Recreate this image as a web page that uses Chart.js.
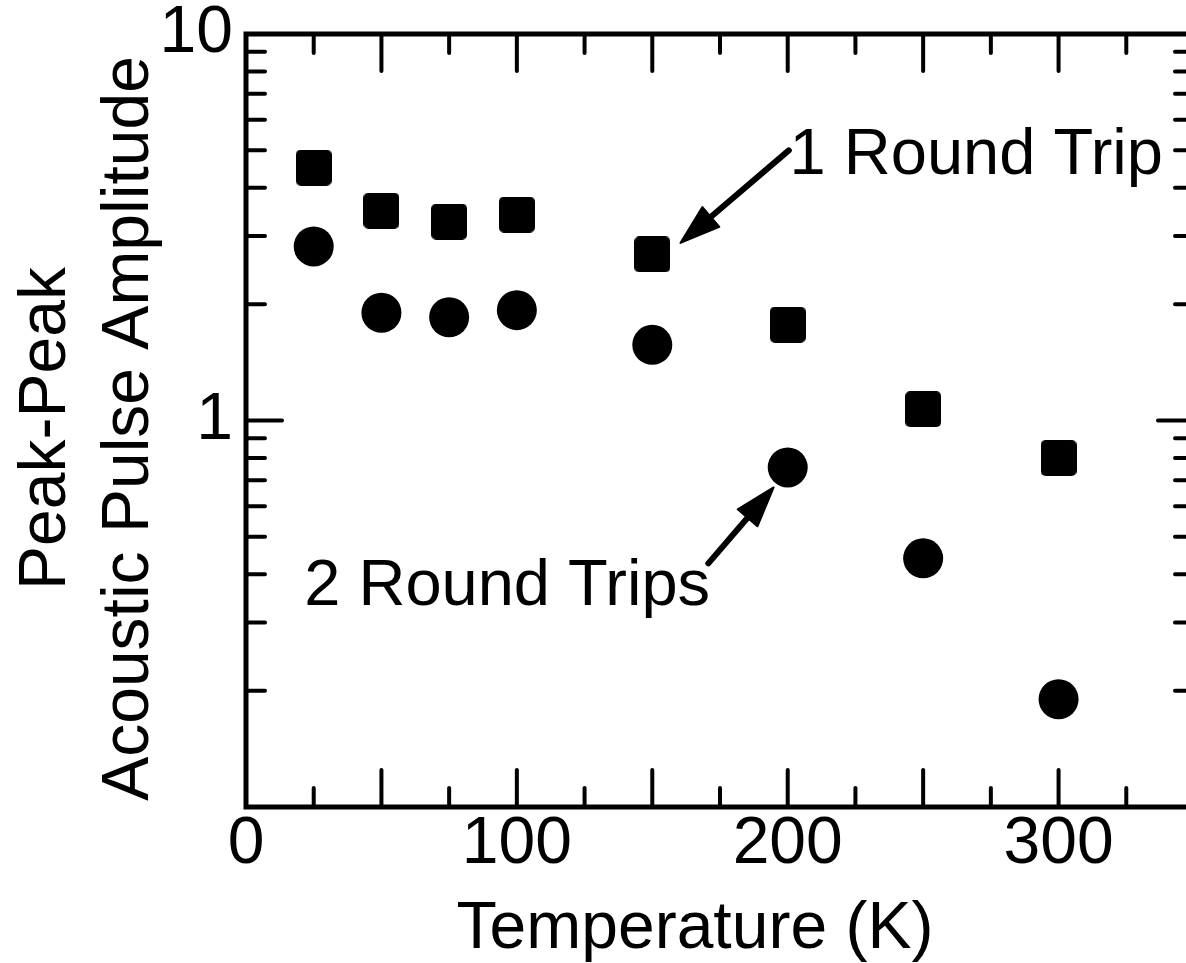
<!DOCTYPE html>
<html>
<head>
<meta charset="utf-8">
<script src="https://cdn.jsdelivr.net/npm/chart.js@4.4.0/dist/chart.umd.min.js"></script>
<style>
  html, body { margin: 0; padding: 0; background: #fff; overflow: hidden; }
  #wrap { width: 1214px; height: 963px; }
</style>
</head>
<body>
<div id="wrap"><canvas id="chart" width="1214" height="963"></canvas></div>
<script>
// data
const temperatures = [25, 50, 75, 100, 150, 200, 250, 300];
const oneRoundTrip = [4.51, 3.49, 3.27, 3.41, 2.69, 1.77, 1.07, 0.80];
const twoRoundTrips = [2.82, 1.90, 1.85, 1.93, 1.57, 0.756, 0.44, 0.190];

const xTicks = [0, 25, 50, 75, 100, 125, 150, 175, 200, 225, 250, 275, 300, 325, 350];
const xLabels = [0, 100, 200, 300];
const yTicks = [0.1, 0.2, 0.3, 0.4, 0.5, 0.6, 0.7, 0.8, 0.9, 1, 2, 3, 4, 5, 6, 7, 8, 9, 10];
const yLabels = [1, 10];

const xTitle = 'Temperature (K)';
const yTitle = ['Peak-Peak', 'Acoustic Pulse Amplitude'];

// annotation anchors in data units
const noteText = ['1 Round Trip', '2 Round Trips'];
const noteAt = [[200.7, 4.35], [21.5, 0.333]];
const arrowFrom = [[200.4, 5.0], [170.7, 0.427]];
const arrowTo = [[160.4, 2.88], [194.8, 0.671]];

const FONT = '"Liberation Sans", Arial, Helvetica, sans-serif';

// rounded square marker
function squareMarker(side, r) {
    const c = document.createElement('canvas');
    c.width = side; c.height = side;
    const g = c.getContext('2d');
    g.fillStyle = '#000';
    g.beginPath();
    g.roundRect(0, 0, side, side, r);
    g.fill();
    return c;
}

const axesAndNotes = {
    id: 'axesAndNotes',
    afterDraw(chart) {
        const { ctx, chartArea: a, scales: { x, y } } = chart;
        ctx.save();
        ctx.strokeStyle = '#000';
        ctx.fillStyle = '#000';

        // frame
        ctx.lineWidth = 5;
        ctx.strokeRect(a.left, a.top, a.right - a.left, a.bottom - a.top);

        // inward ticks
        ctx.lineWidth = 4;
        ctx.lineCap = 'round';
        ctx.beginPath();
        x.ticks.forEach(t => {
            if (t.value <= x.min || t.value >= x.max) return;
            const px = x.getPixelForValue(t.value);
            const len = t.value % 50 === 0 ? 37 : 19;
            ctx.moveTo(px, a.bottom); ctx.lineTo(px, a.bottom - len);
            ctx.moveTo(px, a.top); ctx.lineTo(px, a.top + len);
        });
        y.ticks.forEach(t => {
            if (t.value <= y.min || t.value >= y.max) return;
            const py = y.getPixelForValue(t.value);
            const e = Math.log10(t.value);
            const len = Math.abs(e - Math.round(e)) < 1e-6 ? 36 : 19;
            ctx.moveTo(a.left, py); ctx.lineTo(a.left + len, py);
            ctx.moveTo(a.right, py); ctx.lineTo(a.right - len, py);
        });
        ctx.stroke();

        // axis titles
        ctx.font = '66px ' + FONT;
        ctx.textAlign = 'center';
        ctx.textBaseline = 'alphabetic';
        ctx.fillText(xTitle, 695, 948);
        const midY = (a.top + a.bottom) / 2 + 8;
        [65, 148].forEach((bx, i) => {
            ctx.save();
            ctx.translate(bx, midY);
            ctx.rotate(-Math.PI / 2);
            ctx.fillText(yTitle[i], 0, 0);
            ctx.restore();
        });

        // notes
        ctx.font = '65px ' + FONT;
        ctx.textAlign = 'left';
        noteText.forEach((txt, i) => {
            ctx.fillText(txt, x.getPixelForValue(noteAt[i][0]), y.getPixelForValue(noteAt[i][1]));
        });

        // arrows
        arrowFrom.forEach((f, i) => {
            const x0 = x.getPixelForValue(f[0]), y0 = y.getPixelForValue(f[1]);
            const x1 = x.getPixelForValue(arrowTo[i][0]), y1 = y.getPixelForValue(arrowTo[i][1]);
            const ang = Math.atan2(y1 - y0, x1 - x0);
            const head = 40, half = 13;
            const bx = x1 - head * Math.cos(ang), by = y1 - head * Math.sin(ang);
            ctx.lineWidth = 6;
            ctx.beginPath();
            ctx.moveTo(x0, y0);
            ctx.lineTo(bx + 4 * Math.cos(ang), by + 4 * Math.sin(ang));
            ctx.stroke();
            ctx.beginPath();
            ctx.moveTo(x1, y1);
            ctx.lineTo(bx + half * Math.sin(ang), by - half * Math.cos(ang));
            ctx.lineTo(bx - half * Math.sin(ang), by + half * Math.cos(ang));
            ctx.closePath();
            ctx.lineJoin = 'round';
            ctx.lineWidth = 2;
            ctx.fill();
            ctx.stroke();
        });
        ctx.restore();
    }
};

const ctx = document.getElementById('chart').getContext('2d');
new Chart(ctx, {
    type: 'scatter',
    data: {
        datasets: [
            {
                label: '1 Round Trip',
                data: temperatures.map((t, i) => ({ x: t, y: oneRoundTrip[i] })),
                pointStyle: squareMarker(36, 5),
                backgroundColor: '#000',
                borderWidth: 0
            },
            {
                label: '2 Round Trips',
                data: temperatures.map((t, i) => ({ x: t, y: twoRoundTrips[i] })),
                pointStyle: 'circle',
                pointRadius: 20,
                backgroundColor: '#000',
                borderWidth: 0
            }
        ]
    },
    options: {
        responsive: false,
        devicePixelRatio: 1,
        animation: false,
        events: [],
        layout: { padding: { top: 34, right: 8, left: 0, bottom: 0 } },
        plugins: { legend: { display: false }, tooltip: { enabled: false } },
        scales: {
            x: {
                type: 'linear',
                min: 0,
                max: 350,
                grid: { display: false, drawTicks: false },
                border: { display: false },
                afterBuildTicks: s => { s.ticks = xTicks.map(v => ({ value: v })); },
                afterFit: s => { s.height = 156; s.paddingLeft = 0; s.paddingRight = 0; },
                ticks: {
                    autoSkip: false,
                    maxRotation: 0,
                    padding: 5,
                    color: '#000',
                    font: { family: FONT, size: 66, lineHeight: 1 },
                    callback: v => xLabels.includes(v) ? String(v) : ''
                }
            },
            y: {
                type: 'logarithmic',
                min: 0.1,
                max: 10,
                grid: { display: false, drawTicks: false },
                border: { display: false },
                afterBuildTicks: s => { s.ticks = yTicks.map(v => ({ value: v })); },
                afterFit: s => { s.width = 246; s.paddingTop = 0; s.paddingBottom = 0; },
                ticks: {
                    autoSkip: false,
                    padding: 13,
                    color: '#000',
                    font: { family: FONT, size: 66, lineHeight: 1 },
                    callback: v => yLabels.includes(v) ? String(v) : ''
                }
            }
        }
    },
    plugins: [axesAndNotes]
});
</script>
</body>
</html>
